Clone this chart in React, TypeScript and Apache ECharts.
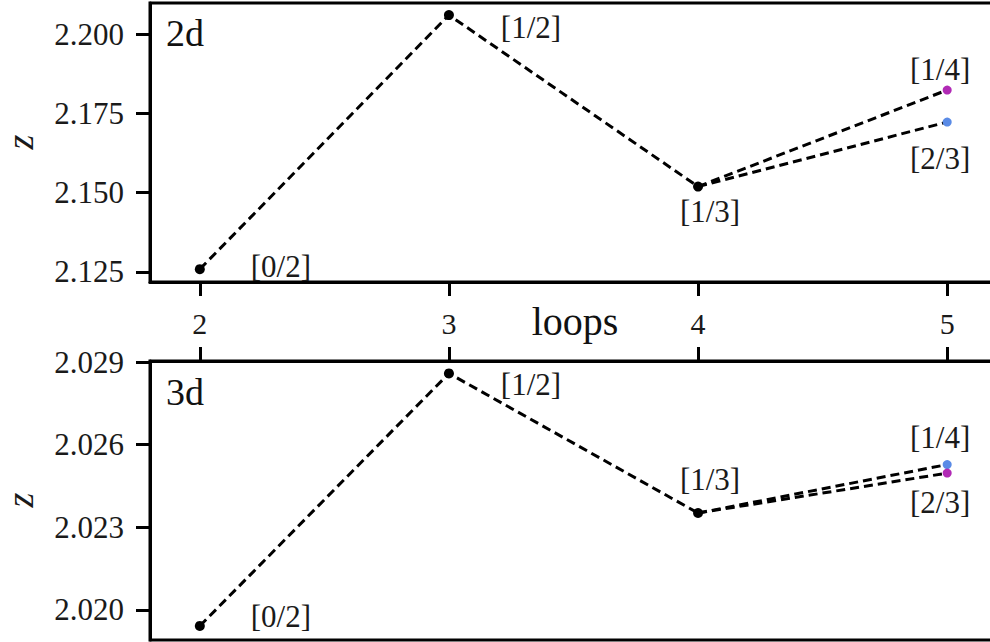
import React, { useEffect, useRef } from "react";
import * as echarts from "echarts";

const loops = [2, 3, 4];
const xTicks = [2, 3, 4, 5];
const labelsMain = ["[0/2]", "[1/2]", "[1/3]"];

// 2d panel
const z2d = [2.12585, 2.206, 2.1519];
const z2d_magenta = 2.18235; // [1/4] at 5 loops
const z2d_blue = 2.17225; // [2/3] at 5 loops
const yTicks2d = [2.125, 2.15, 2.175, 2.2];

// 3d panel
const z3d = [2.01942, 2.02859, 2.02352];
const z3d_blue = 2.02528; // upper point at 5 loops
const z3d_magenta = 2.02497; // lower point at 5 loops
const yTicks3d = [2.02, 2.023, 2.026, 2.029];

const BLACK = "#000";
const BLUE = "#5a8be6";
const MAGENTA = "#b12ab5";
const FONT = "Liberation Serif";

export default function App() {
  const ref = useRef<HTMLDivElement>(null);
  useEffect(() => {
    if (!ref.current) return;
    const chart = echarts.init(ref.current, null, { renderer: "svg" });

    const dash = { type: [9, 5] as any, width: 3, color: BLACK };
    const annot = (text: string, offset: number[]) => ({
      show: true,
      position: "inside",
      formatter: text,
      offset,
      fontFamily: FONT,
      fontSize: 31,
      color: "#1a1a1a",
      align: "center",
      verticalAlign: "middle",
    });

    const makePanel = (
      gi: number,
      main: number[],
      branches: { v: number; color: string; text: string; off: number[] }[],
      offs: number[][]
    ) => {
      const mainSeries = {
        type: "line",
        xAxisIndex: gi,
        yAxisIndex: gi,
        data: loops.map((x, i) => ({
          value: [x, main[i]],
          label: annot(labelsMain[i], offs[i]),
        })),
        symbol: "circle",
        symbolSize: 10,
        itemStyle: { color: BLACK },
        lineStyle: dash,
        z: 3,
      };
      const last = loops.length - 1;
      const branchSeries = branches.map((b) => ({
        type: "line",
        xAxisIndex: gi,
        yAxisIndex: gi,
        data: [
          { value: [loops[last], main[last]], symbol: "none" },
          { value: [xTicks[3], b.v], label: annot(b.text, b.off) },
        ],
        symbol: "circle",
        symbolSize: 9,
        itemStyle: { color: b.color },
        lineStyle: dash,
        z: 2,
      }));
      return [mainSeries, ...branchSeries];
    };

    const yAxis = (gi: number, min: number, max: number, ticks: number[]) => ({
      type: "value",
      gridIndex: gi,
      min,
      max,
      splitLine: { show: false },
      axisLine: { show: true, lineStyle: { color: BLACK, width: 3 } },
      axisTick: {
        show: true,
        length: 14,
        lineStyle: { color: BLACK, width: 3 },
        customValues: ticks,
      },
      axisLabel: {
        show: true,
        margin: 26,
        fontFamily: FONT,
        fontSize: 31,
        color: "#1a1a1a",
        customValues: ticks,
        formatter: (v: number) => v.toFixed(3),
      },
    });

    const xAxis = (gi: number, position: string, showLabels: boolean) => ({
      type: "value",
      gridIndex: gi,
      position,
      min: 1.8,
      max: 5.2,
      splitLine: { show: false },
      axisLine: { show: true, onZero: false, lineStyle: { color: BLACK, width: 3 } },
      axisTick: {
        show: true,
        length: 14,
        lineStyle: { color: BLACK, width: 3 },
        customValues: xTicks,
      },
      axisLabel: {
        show: showLabels,
        margin: 26,
        fontFamily: FONT,
        fontSize: 30,
        color: "#1a1a1a",
        customValues: xTicks,
        formatter: (v: number) => String(v),
      },
    });

    const gridBase = {
      left: 150,
      width: 847,
      height: 279,
      show: true,
      borderColor: BLACK,
      borderWidth: 3,
      backgroundColor: "transparent",
      containLabel: false,
      outerBoundsMode: "none",
    };

    chart.setOption({
      animation: false,
      backgroundColor: "#fff",
      grid: [
        { ...gridBase, top: 3 },
        { ...gridBase, top: 361 },
      ],
      xAxis: [xAxis(0, "bottom", true), xAxis(1, "top", false)],
      yAxis: [
        yAxis(0, 2.1218, 2.2098, yTicks2d),
        yAxis(1, 2.01891, 2.02904, yTicks3d),
      ],
      graphic: [
        { type: "text", left: 166, top: 14, style: { text: "2d", font: `38px "${FONT}"`, fill: "#111" } },
        { type: "text", left: 166, top: 373, style: { text: "3d", font: `38px "${FONT}"`, fill: "#111" } },
        { type: "text", x: 575, y: 321, style: { text: "loops", font: `40px "${FONT}"`, fill: "#111", align: "center", verticalAlign: "middle" } },
        { type: "text", x: 20, y: 142, rotation: Math.PI / 2, style: { text: "z", font: `italic 38px "${FONT}"`, fill: "#1a1a1a", align: "center", verticalAlign: "middle" } },
        { type: "text", x: 20, y: 500, rotation: Math.PI / 2, style: { text: "z", font: `italic 38px "${FONT}"`, fill: "#1a1a1a", align: "center", verticalAlign: "middle" } },
      ],
      series: [
        ...makePanel(
          0,
          z2d,
          [
            { v: z2d_magenta, color: MAGENTA, text: "[1/4]", off: [-7, -21] },
            { v: z2d_blue, color: BLUE, text: "[2/3]", off: [-7, 36] },
          ],
          [[81, -3], [82, 12], [12, 25]]
        ),
        ...makePanel(
          1,
          z3d,
          [
            { v: z3d_blue, color: BLUE, text: "[1/4]", off: [-7, -27] },
            { v: z3d_magenta, color: MAGENTA, text: "[2/3]", off: [-7, 29] },
          ],
          [[81, -9], [82, 11], [12, -34]]
        ),
      ],
    });
    return () => chart.dispose();
  }, []);

  return (
    <div style={{ position: "fixed", left: 0, top: 0, width: 990, height: 642, overflow: "hidden", background: "#fff" }}>
      <div ref={ref} style={{ width: 1010, height: 642 }} />
    </div>
  );
}
